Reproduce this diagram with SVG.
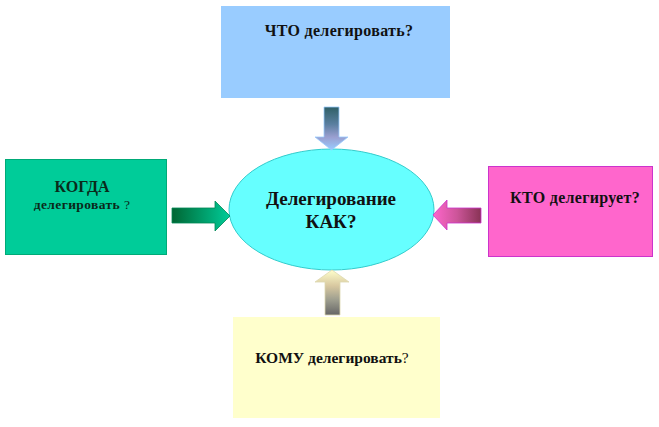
<svg xmlns="http://www.w3.org/2000/svg" width="659" height="427" viewBox="0 0 659 427">
<style>
text{font-family:"Liberation Serif","DejaVu Serif","Times New Roman",serif;font-weight:bold;text-anchor:middle;fill:#111;}
.n{font-weight:normal;}
</style>
<defs>
<linearGradient id="gTop" x1="0" y1="0" x2="0" y2="1">
<stop offset="0" stop-color="#2f5f66"/><stop offset="0.4" stop-color="#5a7fa0"/><stop offset="0.7" stop-color="#9a9fd0"/><stop offset="1" stop-color="#99ccff"/>
</linearGradient>
<linearGradient id="gBot" x1="0" y1="1" x2="0" y2="0">
<stop offset="0" stop-color="#666666"/><stop offset="0.35" stop-color="#a0a090"/><stop offset="0.65" stop-color="#d8c8a0"/><stop offset="1" stop-color="#ffffcc"/>
</linearGradient>
<linearGradient id="gLeft" x1="0" y1="0" x2="1" y2="0">
<stop offset="0" stop-color="#006633"/><stop offset="0.5" stop-color="#009966"/><stop offset="1" stop-color="#00cc99"/>
</linearGradient>
<linearGradient id="gRight" x1="1" y1="0" x2="0" y2="0">
<stop offset="0" stop-color="#883355"/><stop offset="0.5" stop-color="#cc5599"/><stop offset="1" stop-color="#ff66cc"/>
</linearGradient>
</defs>
<rect width="659" height="427" fill="#ffffff"/>
<g id="node-what">
<rect x="221" y="6" width="229" height="92" fill="#99ccff"/>
<text x="339" y="36" font-size="16" letter-spacing="0.3">ЧТО делегировать?</text>
</g>
<g id="node-when">
<rect x="5.5" y="159.5" width="161" height="95" fill="#00cc99" stroke="#00aa77"/>
<text x="82" y="192" font-size="16" style="fill:#0a2a1a">КОГДА</text>
<text x="82" y="209" font-size="13.5" letter-spacing="0.4" style="fill:#0a2a1a">делегировать<tspan class="n"> ?</tspan></text>
</g>
<g id="node-who">
<rect x="488.5" y="166.5" width="164" height="90" fill="#ff66cc" stroke="#cc33cc"/>
<text x="575" y="203" font-size="16" letter-spacing="0.3">КТО делегирует?</text>
</g>
<g id="node-whom">
<rect x="233" y="317" width="207" height="101" fill="#ffffcc"/>
<text x="332" y="363" font-size="15.5">КОМУ делегировать<tspan class="n">?</tspan></text>
</g>
<g id="node-how">
<ellipse cx="331.5" cy="209.5" rx="102.5" ry="60.5" fill="#66ffff" stroke="#33cccc"/>
<text x="331" y="205" font-size="19">Делегирование</text>
<text x="331" y="228" font-size="19">КАК?</text>
</g>
<g id="connectors">
<path d="M324,107 H339 V137 H348 L331.5,150 L315,137 H324 Z" fill="url(#gTop)" stroke="#99ccff" stroke-width="0.8"/>
<path d="M325,315 H340 V282 H349 L332,270 L315,282 H325 Z" fill="url(#gBot)" stroke="#ddd8b0" stroke-width="0.8"/>
<path d="M172,208 H215 V201 L230,216 L215,231 V223 H172 Z" fill="url(#gLeft)" stroke="#008855" stroke-width="0.8"/>
<path d="M481,208 H447 V200 L433,215 L447,230 V223 H481 Z" fill="url(#gRight)" stroke="#cc33cc" stroke-width="0.8"/>
</g>
</svg>
